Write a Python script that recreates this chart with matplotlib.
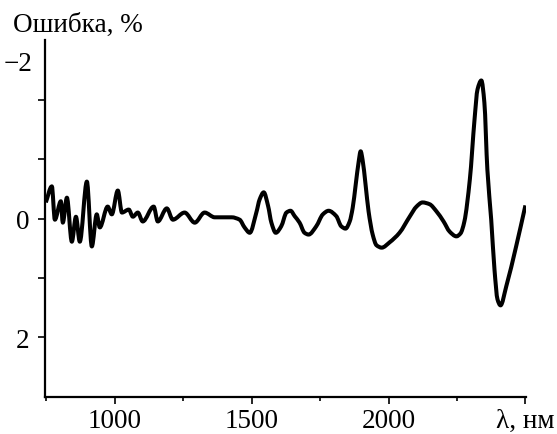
#=== Define package ===#
import numpy as np
import matplotlib
matplotlib.use('Agg')
import matplotlib.pyplot as plt
import matplotlib.transforms as mtransforms
from matplotlib.path import Path
from matplotlib.patches import PathPatch

#=== Data ===#
# wavelength in nm
wl = [748, 770, 781, 803, 810, 825, 843, 858, 872, 898, 916, 934, 945, 974, 989,
      1011, 1026, 1051, 1066, 1084, 1102, 1142, 1157, 1190, 1212, 1255, 1292, 1328,
      1365, 1427, 1456, 1474, 1493, 1517, 1529, 1544, 1560, 1572, 1588, 1608, 1627,
      1642, 1657, 1675, 1693, 1708, 1736, 1760, 1781, 1809, 1827, 1843, 1858, 1869,
      1880, 1891, 1898, 1905, 1916, 1927, 1942, 1956, 1975, 2004, 2040, 2077, 2102,
      2124, 2150, 2175, 2201, 2223, 2248, 2263, 2277, 2297, 2314, 2325, 2339, 2350,
      2361, 2375, 2387, 2398, 2409, 2430, 2466, 2500]
# error in %
err = [-0.27, -0.54, 0.02, -0.29, 0.07, -0.35, 0.39, -0.03, 0.39, -0.62, 0.47, -0.07,
       0.15, -0.20, -0.07, -0.47, -0.10, -0.15, -0.03, -0.10, 0.05, -0.20, 0.05, -0.17,
       0.02, -0.10, 0.07, -0.10, -0.02, -0.02, 0.02, 0.15, 0.24, -0.10, -0.32, -0.44,
       -0.21, 0.07, 0.24, 0.13, -0.10, -0.13, -0.04, 0.07, 0.24, 0.27, 0.13, -0.07,
       -0.13, -0.04, 0.13, 0.17, 0.05, -0.18, -0.57, -0.96, -1.13, -0.99, -0.57, -0.12,
       0.27, 0.45, 0.49, 0.40, 0.24, -0.03, -0.20, -0.27, -0.24, -0.12, 0.05, 0.22,
       0.30, 0.25, 0.05, -0.66, -1.66, -2.17, -2.32, -1.95, -0.82, 0.02, 0.86, 1.36,
       1.46, 1.14, 0.47, -0.22]

x_ticks = [1000, 1500, 2000, 2500]
x_ticklabels = ['1000', '1500', '2000', 'λ, нм']
x_minor = [750, 1250, 1750, 2250]
y_ticks = [-2, -1, 0, 1, 2]
y_ticklabels = ['', '', '0', '', '2']


#=== Smooth curve through the points (cubic Bezier, monotone slopes) ===#
def smooth_path(x, y):
    x = np.asarray(x, float)
    y = np.asarray(y, float)
    h = np.diff(x)
    s = np.diff(y) / h
    m = np.zeros_like(x)
    for i in range(1, len(x) - 1):
        if s[i - 1] * s[i] > 0:
            m[i] = 2 / (1 / s[i - 1] + 1 / s[i])
    m[0] = s[0]
    m[-1] = s[-1]
    verts = [(x[0], y[0])]
    codes = [Path.MOVETO]
    for i in range(len(x) - 1):
        verts += [(x[i] + h[i] / 3, y[i] + m[i] * h[i] / 3),
                  (x[i + 1] - h[i] / 3, y[i + 1] - m[i + 1] * h[i] / 3),
                  (x[i + 1], y[i + 1])]
        codes += [Path.CURVE4] * 3
    return Path(verts, codes)


#=== Setup plot ===#
plt.rcParams['font.family'] = ['Liberation Serif', 'DejaVu Serif']
plt.rcParams['font.size'] = 19.5

fig = plt.figure(figsize=(5.57, 4.35), dpi=100)
ax = fig.add_axes([0.0808, 0.0851, 0.8635, 0.8206])

ax.add_patch(PathPatch(smooth_path(wl, err), fill=False, edgecolor='black',
                       lw=2.9, joinstyle='round', capstyle='butt'))

ax.set_xlim(745, 2502)
ax.set_ylim(3, -3)

ax.spines['top'].set_visible(False)
ax.spines['right'].set_visible(False)
ax.spines['left'].set_linewidth(1.6)
ax.spines['bottom'].set_linewidth(1.6)

ax.set_xticks(x_ticks)
ax.set_xticklabels(x_ticklabels)
ax.set_xticks(x_minor, minor=True)
ax.set_yticks(y_ticks)
ax.set_yticklabels(y_ticklabels)
ax.tick_params(axis='both', which='major', direction='out', length=5, width=1.2, pad=6)
ax.tick_params(axis='x', which='major', pad=3)
ax.tick_params(axis='x', which='minor', direction='out', length=3, width=1.2)

#=== Texts ===#
trans = mtransforms.blended_transform_factory(ax.transAxes, ax.transData)
ax.text(-0.025, -2.6, '−2', transform=trans, ha='right', va='center')
fig.text(0.023, 0.926, 'Ошибка, %', ha='left', va='baseline')

fig.savefig('out.png', dpi=100)
